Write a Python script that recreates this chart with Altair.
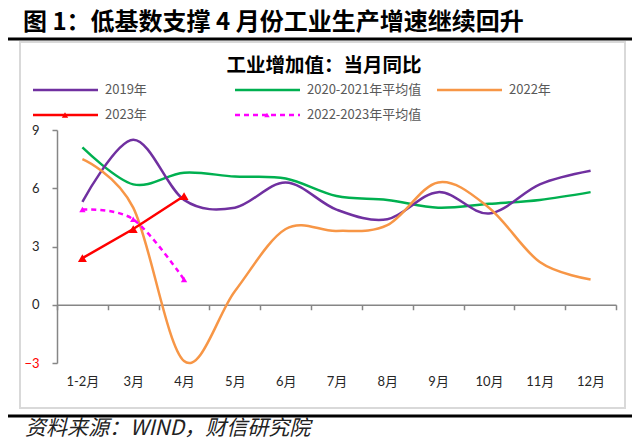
import altair as alt
import pandas as pd

months = ["1-2月", "3月", "4月", "5月", "6月", "7月", "8月", "9月", "10月", "11月", "12月"]
s2019 = [5.3, 8.5, 5.4, 5.0, 6.3, 4.9, 4.4, 5.8, 4.7, 6.2, 6.9]
s2021avg = [8.1, 6.2, 6.8, 6.6, 6.5, 5.6, 5.4, 5.0, 5.2, 5.4, 5.8]
s2022 = [7.5, 5.0, -2.9, 0.7, 3.9, 3.8, 4.1, 6.3, 5.0, 2.2, 1.3]
s2023 = [2.4, 3.9, 5.6]
s2223avg = [4.9, 4.4, 1.3]

names = ["2019年", "2020-2021年平均值", "2022年", "2023年", "2022-2023年平均值"]
colors = ["#7030A0", "#00B050", "#F79646", "#FF0000", "#FF00FF"]

main_title = "图 1：低基数支撑 4 月份工业生产增速继续回升"
chart_title = "工业增加值：当月同比"
source_text = "资料来源：WIND，财信研究院"

CJK = "Noto Sans CJK SC"
NARROW = "Liberation Sans Narrow, Noto Sans CJK SC"
LAT = "Lato, Noto Sans CJK SC"

def frame(vals, n):
    return pd.DataFrame({"month": months[: len(vals)], "value": vals, "series": n})

x_enc = alt.X(
    "month:N",
    sort=months,
    bandPosition=0.5,
    scale=alt.Scale(type="band", domain=months, paddingInner=0, paddingOuter=0),
    axis=alt.Axis(
        title=None,
        tickBand="extent",
        offset=-58.25,
        domainColor="#868686",
        domainWidth=1.5,
        tickColor="#868686",
        tickWidth=1.5,
        tickSize=5,
        labelPadding=66,
        labelFont=LAT,
        labelFontSize=13,
        labelColor="#262626",
        labelAngle=0,
    ),
)
y_enc = alt.Y(
    "value:Q",
    scale=alt.Scale(domain=[-3, 9], nice=False, zero=False),
    axis=alt.Axis(
        title=None,
        values=[-3, 0, 3, 6, 9],
        grid=False,
        domainColor="#868686",
        domainWidth=1.5,
        tickColor="#868686",
        tickWidth=1.5,
        tickSize=5,
        labelPadding=13,
        labelFont=LAT,
        labelFontSize=13,
        labelColor={"expr": "datum.value < 0 ? '#FF0000' : '#262626'"},
    ),
)

def smooth_line(df, color, dash=None, width=2.5):
    kw = dict(color=color, strokeWidth=width, interpolate="cardinal")
    if dash:
        kw["strokeDash"] = dash
    return alt.Chart(df).mark_line(**kw).encode(x=x_enc, y=y_enc)

l2019 = smooth_line(frame(s2019, names[0]), colors[0])
l2021 = smooth_line(frame(s2021avg, names[1]), colors[1])
l2022 = smooth_line(frame(s2022, names[2]), colors[2])
l2223 = smooth_line(frame(s2223avg, names[4]), colors[4], dash=[5, 4])
p2223 = alt.Chart(frame(s2223avg, names[4])).mark_point(
    shape="triangle-up", filled=True, color=colors[4], size=40, opacity=1
).encode(x=x_enc, y=y_enc)
l2023 = alt.Chart(frame(s2023, names[3])).mark_line(color=colors[3], strokeWidth=2.5).encode(x=x_enc, y=y_enc)
p2023 = alt.Chart(frame(s2023, names[3])).mark_point(
    shape="triangle-up", filled=True, color=colors[3], size=80, opacity=1
).encode(x=x_enc, y=y_enc)

one = pd.DataFrame({"a": [0]})

# decorations (pixel positions relative to plot origin)
box = alt.Chart(one).mark_rect(fillOpacity=0, stroke="#D9D9D9", strokeWidth=2).encode(
    x=alt.value(-37), x2=alt.value(568), y=alt.value(-88), y2=alt.value(278)
)
top_rule = alt.Chart(one).mark_rule(color="#000000", strokeWidth=3).encode(
    x=alt.value(-49), x2=alt.value(575), y=alt.value(-91)
)
bottom_rule = alt.Chart(one).mark_rule(color="#000000", strokeWidth=3).encode(
    x=alt.value(-49), x2=alt.value(575), y=alt.value(286)
)
t_main = alt.Chart(pd.DataFrame({"t": [main_title]})).mark_text(
    align="left", baseline="middle", font=CJK, fontSize=24, fontWeight="bold", color="#000000"
).encode(text="t:N", x=alt.value(-34), y=alt.value(-107))
t_chart = alt.Chart(pd.DataFrame({"t": [chart_title]})).mark_text(
    align="center", baseline="middle", font=CJK, fontSize=19.5, fontWeight="bold", color="#000000"
).encode(text="t:N", x=alt.value(267), y=alt.value(-64))
t_src = alt.Chart(pd.DataFrame({"t": [source_text]})).mark_text(
    align="left", baseline="middle", font=CJK, fontSize=21, fontStyle="italic", color="#222222"
).encode(text="t:N", x=alt.value(-32), y=alt.value(299))

# legend
legend_layers = []
for i, (n, c) in enumerate(zip(names, colors)):
    col, row = i % 3, i // 3
    lx0 = -24 + col * 202
    ly = -40 + row * 25
    kw = dict(color=c, strokeWidth=2.5)
    if i == 4:
        kw["strokeDash"] = [5, 4]
    legend_layers.append(
        alt.Chart(one).mark_rule(**kw).encode(x=alt.value(lx0), x2=alt.value(lx0 + 65), y=alt.value(ly))
    )
    if i >= 3:
        legend_layers.append(
            alt.Chart(one).mark_point(
                shape="triangle-up", filled=True, color=c, size=40 if i == 3 else 30, opacity=1
            ).encode(x=alt.value(lx0 + 32), y=alt.value(ly))
        )
    legend_layers.append(
        alt.Chart(pd.DataFrame({"t": [n]})).mark_text(
            align="left", baseline="middle", font=NARROW, fontSize=13, color="#595959"
        ).encode(text="t:N", x=alt.value(lx0 + 72), y=alt.value(ly))
    )

chart = alt.layer(
    box, top_rule, bottom_rule, t_main, t_chart, t_src,
    l2021, l2019, l2022, l2223, p2223, l2023, p2023,
    *legend_layers,
).properties(
    width=559,
    height=233,
    autosize=alt.AutoSizeParams(type="none"),
    padding={"left": 49, "top": 122, "right": 16, "bottom": 77},
).configure_view(stroke=None)

chart.save("out.html", embed_options={"renderer": "svg", "actions": False})
